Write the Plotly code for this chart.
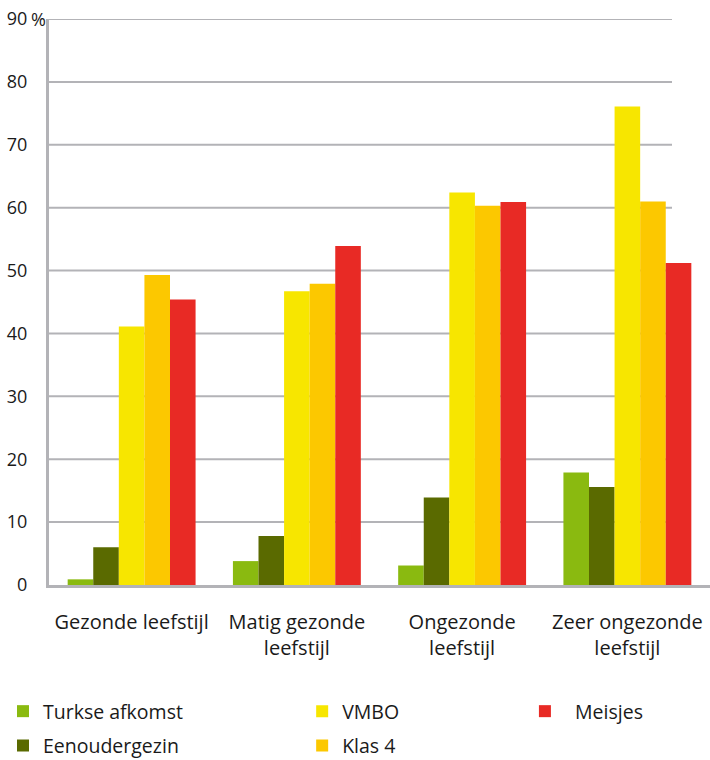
import plotly.graph_objects as go

categories = ["Gezonde leefstijl", "Matig gezonde<br>leefstijl", "Ongezonde<br>leefstijl", "Zeer ongezonde<br>leefstijl"]

turkse_afkomst = [0.9, 3.8, 3.1, 17.9]
eenoudergezin = [6.0, 7.8, 13.9, 15.6]
vmbo = [41.1, 46.7, 62.4, 76.1]
klas_4 = [49.3, 47.9, 60.3, 61.0]
meisjes = [45.4, 53.9, 60.9, 51.2]

y_ticks = [0, 10, 20, 30, 40, 50, 60, 70, 80, 90]
y_ticktext = ["0", "10", "20", "30", "40", "50", "60", "70", "80", "90"]

FONT = "Open Sans"
TEXT = "#1a1a1a"
GRID = "#b3b3b7"

series = [
    ("Turkse afkomst", turkse_afkomst, "#8aba10", "legend", 1),
    ("Eenoudergezin", eenoudergezin, "#5a6a00", "legend", 2),
    ("VMBO", vmbo, "#f7e600", "legend2", 1),
    ("Klas 4", klas_4, "#fcc800", "legend2", 2),
    ("\u00a0\u00a0Meisjes", meisjes, "#e82a25", "legend3", 1),
]

fig = go.Figure()
for name, vals, color, leg, rank in series:
    fig.add_trace(go.Bar(
        x=categories, y=vals, name=name, marker_color=color,
        marker_line_width=0, legend=leg, legendrank=rank,
        legendgroup=name,
    ))

# horizontal gridlines that stop short of the right edge
for t in y_ticks[1:]:
    fig.add_shape(type="line", xref="paper", yref="y", x0=0, x1=0.9425, y0=t, y1=t,
                  line=dict(color=GRID, width=2), layer="below")

legend_common = dict(
    orientation="v", yref="container", yanchor="top", y=0.0895,
    traceorder="grouped", tracegroupgap=6,
    font=dict(family=FONT, size=19.5, color=TEXT), bgcolor="rgba(0,0,0,0)",
    itemclick=False,
)

fig.update_layout(
    width=710, height=760,
    margin=dict(l=49, r=0, t=19, b=175),
    paper_bgcolor="white", plot_bgcolor="white",
    barmode="group", bargap=0.226, bargroupgap=0,
    font=dict(family=FONT, size=18, color=TEXT),
    showlegend=True,
    legend=dict(x=-0.0696, **legend_common),
    legend2=dict(x=0.383, **legend_common),
    legend3=dict(x=0.720, **legend_common),
    xaxis=dict(
        showgrid=False, showline=True, linecolor=GRID, linewidth=3,
        ticks="", ticklabelstandoff=17, automargin=False,
        tickfont=dict(family=FONT, size=20, color=TEXT),
    ),
    yaxis=dict(
        range=[0, 90], tickvals=y_ticks, ticktext=y_ticktext,
        showgrid=False, zeroline=False, showline=True, linecolor=GRID, linewidth=3,
        ticks="", ticklabelstandoff=15, automargin=False,
        tickfont=dict(family=FONT, size=18, color=TEXT),
    ),
    annotations=[dict(
        text="%", xref="paper", yref="y", x=0, y=90, xshift=-20.5, xanchor="left",
        yanchor="middle", showarrow=False, font=dict(family=FONT, size=18, color=TEXT),
    )],
)

fig.write_html("out.html")
